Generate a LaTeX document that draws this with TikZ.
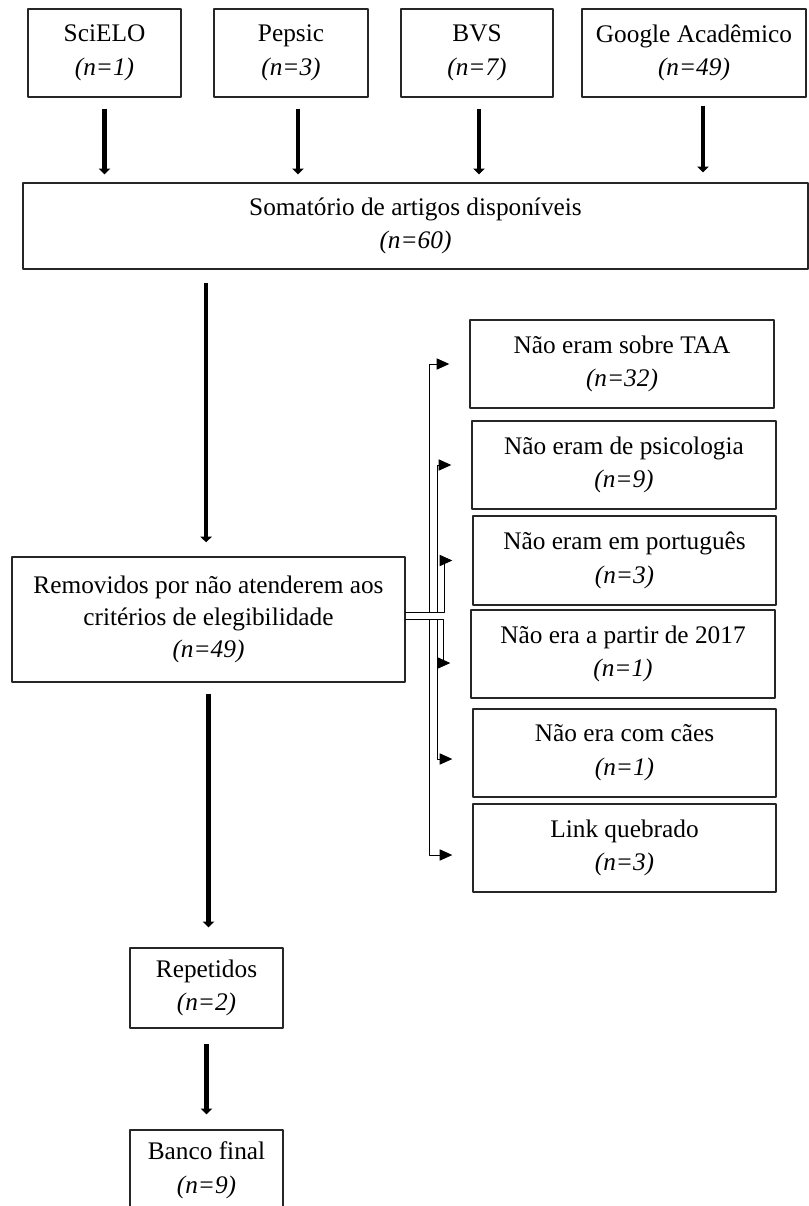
\documentclass[tikz,border=0pt]{standalone}
\usepackage{fontspec}
\setmainfont{Liberation Serif}
\usetikzlibrary{arrows.meta}
\begin{document}
\begin{tikzpicture}[x=0.025cm, y=-0.025cm, line join = round,
  box/.style = {draw=black!85, line width=1pt, align=center, inner sep=0pt,
    font=\fontsize{18}{24}\selectfont},
  flow/.style = {line width=3pt, -{Triangle[width=8pt,length=4pt]}},
  link/.style = {draw=black!55, line width=.6pt, -{Triangle[width=8pt,length=9pt]}, black, shorten >=.5cm}]
%Unidade e tamanhos
\def\u{0.025cm}
\def\ct#1#2{#1\\\textit{(n=#2)}}
\useasboundingbox (0,0) rectangle (809,1206);
%Bases de dados
\node[box, minimum width=153*\u, minimum height=88*\u] (scielo) at (104.5,53) {\ct{SciELO}{1}};
\node[box, minimum width=154*\u, minimum height=88*\u] (pepsic) at (291,53) {\ct{Pepsic}{3}};
\node[box, minimum width=152*\u, minimum height=88*\u] (bvs) at (477,53) {\ct{BVS}{7}};
\node[box, minimum width=224*\u, minimum height=88*\u] (google) at (694,53) {\ct{Google Acadêmico}{49}};
%Fluxo principal
\node[box, minimum width=785*\u, minimum height=86*\u] (soma) at (415.5,226) {\ct{Somatório de artigos disponíveis}{60}};
\node[box, minimum width=393*\u, minimum height=125*\u, font=\fontsize{18}{23}\selectfont] (rem) at (208.5,619.5)
  {Removidos por não atenderem aos\\critérios de elegibilidade\\\textit{(n=49)}};
\node[box, minimum width=153*\u, minimum height=80*\u] (rep) at (206.5,988) {\ct{Repetidos}{2}};
\node[box, minimum width=153*\u, minimum height=80*\u] (banco) at (206.5,1170) {\ct{Banco final}{9}};
%Motivos de exclusao
\node[box, minimum width=304*\u, minimum height=88*\u] (taa) at (622,364) {\ct{Não eram sobre TAA}{32}};
\node[box, minimum width=304*\u, minimum height=88*\u] (psi) at (624,465) {\ct{Não eram de psicologia}{9}};
\node[box, minimum width=303*\u, minimum height=89*\u] (por) at (624.5,560.5) {\ct{Não eram em português}{3}};
\node[box, minimum width=304*\u, minimum height=88*\u] (ano) at (623,654) {\ct{Não era a partir de 2017}{1}};
\node[box, minimum width=303*\u, minimum height=88*\u] (caes) at (624.5,753) {\ct{Não era com cães}{1}};
\node[box, minimum width=303*\u, minimum height=88*\u] (lnk) at (624.5,848) {\ct{Link quebrado}{3}};
%Setas grossas
\draw[flow, shorten <=.275cm, shorten >=.2cm] (scielo.south) -- (scielo.south |- soma.north);
\draw[flow, shorten <=.275cm, shorten >=.2cm] ([xshift=.175cm]pepsic.south) -- ([xshift=.175cm]pepsic.south |- soma.north);
\draw[flow, shorten <=.275cm, shorten >=.2cm] ([xshift=.05cm]bvs.south) -- ([xshift=.05cm]bvs.south |- soma.north);
\draw[flow, shorten <=.2cm, shorten >=.25cm] ([xshift=.225cm]google.south) -- ([xshift=.225cm]google.south |- soma.north);
\draw[flow, shorten <=.325cm, shorten >=.35cm] ([xshift=-.06cm]rem.north |- soma.south) -- ([xshift=-.06cm]rem.north);
\draw[flow, shorten <=.275cm, shorten >=.5cm] (rem.south) -- (rem.south |- rep.north);
\draw[flow, shorten <=.375cm, shorten >=.375cm] (rep.south) -- (banco.north);
%Ramificacoes
\coordinate (splitA) at (405,612);
\coordinate (splitB) at (405,619);
\draw[link] (splitA) -- ++(24,0) |- (taa.west);
\draw[link] (splitA) -- ++(32,0) |- (psi.west);
\draw[link] (splitA) -- ++(39,0) |- (por.west);
\draw[link] (splitB) -- ++(38,0) |- ([yshift=-.225cm]ano.west);
\draw[link] (splitB) -- ++(32,0) |- ([yshift=-.15cm]caes.west);
\draw[link] (splitB) -- ++(24,0) |- ([yshift=-.175cm]lnk.west);
\end{tikzpicture}
\end{document}
